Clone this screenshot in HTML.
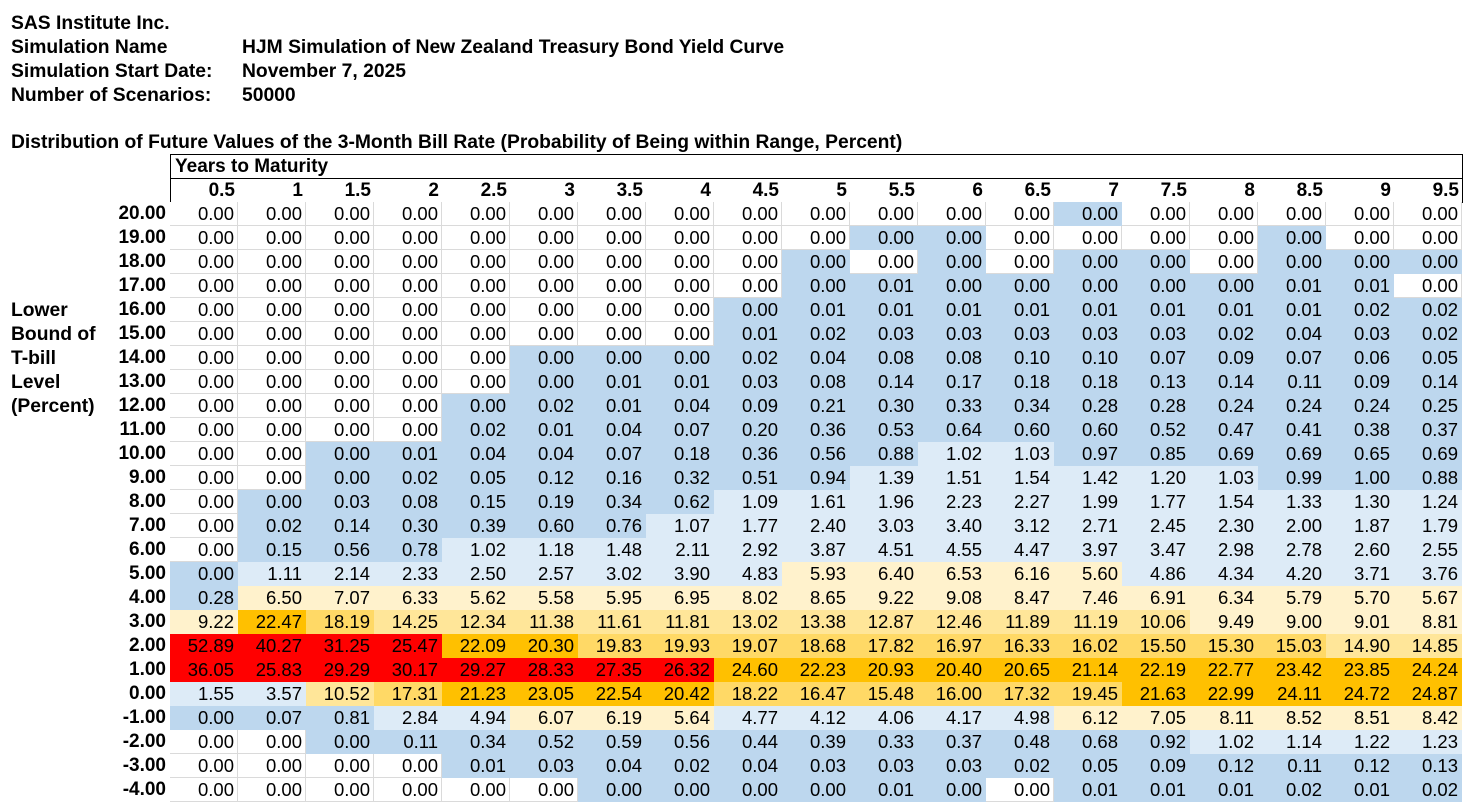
<!DOCTYPE html>
<html><head><meta charset="utf-8"><style>
body{margin:0;width:1477px;height:812px;background:#fff;position:relative;font-family:"Liberation Sans",Arial,sans-serif;color:#000;overflow:hidden}
.t{position:absolute;font-weight:bold;font-size:19.3px;line-height:24px;white-space:nowrap}
table{position:absolute;left:0;top:202px;border-collapse:collapse;table-layout:fixed;font-size:18.5px}
td{width:64px;height:24px;padding:0 4px 0 0;text-align:right;line-height:24px;white-space:nowrap;overflow:hidden}
td.k{width:166px;font-weight:bold;background:#fff;font-size:19px}
.w{background:#fff;box-shadow:inset -1px -1px 0 #dadada}
.b{background:#bdd7ee}.l{background:#ddebf7}.y{background:#fff2cc}.g{background:#ffe699}.h{background:#ffd966}.o{background:#ffc000}.r{background:#ff0000}
#hd{position:absolute;left:170px;top:154px;width:1291px;height:47px;border:1px solid #000}
#hd .ln{position:absolute;left:0;top:23px;width:100%;height:1px;background:#000}
#hd .c{position:absolute;top:24px;width:64px;text-align:right;font-weight:bold;font-size:19px;line-height:24px}
</style></head><body>
<div class="t" style="left:11px;top:12px">SAS Institute Inc.</div>
<div class="t" style="left:11px;top:36px">Simulation Name</div>
<div class="t" style="left:242px;top:36px">HJM Simulation of New Zealand Treasury Bond Yield Curve</div>
<div class="t" style="left:11px;top:60px">Simulation Start Date:</div>
<div class="t" style="left:242px;top:60px">November 7, 2025</div>
<div class="t" style="left:11px;top:84px">Number of Scenarios:</div>
<div class="t" style="left:242px;top:84px">50000</div>
<div class="t" style="left:11px;top:131px">Distribution of Future Values of the 3-Month Bill Rate (Probability of Being within Range, Percent)</div>
<div id="hd"><div class="t" style="left:4px;top:0;font-size:19px">Years to Maturity</div><div class="ln"></div>
<div class="c" style="left:0">0.5</div><div class="c" style="left:68px">1</div><div class="c" style="left:136px">1.5</div><div class="c" style="left:204px">2</div><div class="c" style="left:272px">2.5</div><div class="c" style="left:340px">3</div><div class="c" style="left:408px">3.5</div><div class="c" style="left:476px">4</div><div class="c" style="left:544px">4.5</div><div class="c" style="left:612px">5</div><div class="c" style="left:680px">5.5</div><div class="c" style="left:748px">6</div><div class="c" style="left:816px">6.5</div><div class="c" style="left:884px">7</div><div class="c" style="left:952px">7.5</div><div class="c" style="left:1020px">8</div><div class="c" style="left:1088px">8.5</div><div class="c" style="left:1156px">9</div><div class="c" style="left:1224px">9.5</div>
</div>
<table>
<tr><td class="k">20.00</td><td class="w">0.00</td><td class="w">0.00</td><td class="w">0.00</td><td class="w">0.00</td><td class="w">0.00</td><td class="w">0.00</td><td class="w">0.00</td><td class="w">0.00</td><td class="w">0.00</td><td class="w">0.00</td><td class="w">0.00</td><td class="w">0.00</td><td class="w">0.00</td><td class="b">0.00</td><td class="w">0.00</td><td class="w">0.00</td><td class="w">0.00</td><td class="w">0.00</td><td class="w">0.00</td></tr>
<tr><td class="k">19.00</td><td class="w">0.00</td><td class="w">0.00</td><td class="w">0.00</td><td class="w">0.00</td><td class="w">0.00</td><td class="w">0.00</td><td class="w">0.00</td><td class="w">0.00</td><td class="w">0.00</td><td class="w">0.00</td><td class="b">0.00</td><td class="b">0.00</td><td class="w">0.00</td><td class="w">0.00</td><td class="w">0.00</td><td class="w">0.00</td><td class="b">0.00</td><td class="w">0.00</td><td class="w">0.00</td></tr>
<tr><td class="k">18.00</td><td class="w">0.00</td><td class="w">0.00</td><td class="w">0.00</td><td class="w">0.00</td><td class="w">0.00</td><td class="w">0.00</td><td class="w">0.00</td><td class="w">0.00</td><td class="w">0.00</td><td class="b">0.00</td><td class="w">0.00</td><td class="b">0.00</td><td class="w">0.00</td><td class="b">0.00</td><td class="b">0.00</td><td class="w">0.00</td><td class="b">0.00</td><td class="b">0.00</td><td class="b">0.00</td></tr>
<tr><td class="k">17.00</td><td class="w">0.00</td><td class="w">0.00</td><td class="w">0.00</td><td class="w">0.00</td><td class="w">0.00</td><td class="w">0.00</td><td class="w">0.00</td><td class="w">0.00</td><td class="w">0.00</td><td class="b">0.00</td><td class="b">0.01</td><td class="b">0.00</td><td class="b">0.00</td><td class="b">0.00</td><td class="b">0.00</td><td class="b">0.00</td><td class="b">0.01</td><td class="b">0.01</td><td class="w">0.00</td></tr>
<tr><td class="k">16.00</td><td class="w">0.00</td><td class="w">0.00</td><td class="w">0.00</td><td class="w">0.00</td><td class="w">0.00</td><td class="w">0.00</td><td class="w">0.00</td><td class="w">0.00</td><td class="b">0.00</td><td class="b">0.01</td><td class="b">0.01</td><td class="b">0.01</td><td class="b">0.01</td><td class="b">0.01</td><td class="b">0.01</td><td class="b">0.01</td><td class="b">0.01</td><td class="b">0.02</td><td class="b">0.02</td></tr>
<tr><td class="k">15.00</td><td class="w">0.00</td><td class="w">0.00</td><td class="w">0.00</td><td class="w">0.00</td><td class="w">0.00</td><td class="w">0.00</td><td class="w">0.00</td><td class="w">0.00</td><td class="b">0.01</td><td class="b">0.02</td><td class="b">0.03</td><td class="b">0.03</td><td class="b">0.03</td><td class="b">0.03</td><td class="b">0.03</td><td class="b">0.02</td><td class="b">0.04</td><td class="b">0.03</td><td class="b">0.02</td></tr>
<tr><td class="k">14.00</td><td class="w">0.00</td><td class="w">0.00</td><td class="w">0.00</td><td class="w">0.00</td><td class="w">0.00</td><td class="b">0.00</td><td class="b">0.00</td><td class="b">0.00</td><td class="b">0.02</td><td class="b">0.04</td><td class="b">0.08</td><td class="b">0.08</td><td class="b">0.10</td><td class="b">0.10</td><td class="b">0.07</td><td class="b">0.09</td><td class="b">0.07</td><td class="b">0.06</td><td class="b">0.05</td></tr>
<tr><td class="k">13.00</td><td class="w">0.00</td><td class="w">0.00</td><td class="w">0.00</td><td class="w">0.00</td><td class="w">0.00</td><td class="b">0.00</td><td class="b">0.01</td><td class="b">0.01</td><td class="b">0.03</td><td class="b">0.08</td><td class="b">0.14</td><td class="b">0.17</td><td class="b">0.18</td><td class="b">0.18</td><td class="b">0.13</td><td class="b">0.14</td><td class="b">0.11</td><td class="b">0.09</td><td class="b">0.14</td></tr>
<tr><td class="k">12.00</td><td class="w">0.00</td><td class="w">0.00</td><td class="w">0.00</td><td class="w">0.00</td><td class="b">0.00</td><td class="b">0.02</td><td class="b">0.01</td><td class="b">0.04</td><td class="b">0.09</td><td class="b">0.21</td><td class="b">0.30</td><td class="b">0.33</td><td class="b">0.34</td><td class="b">0.28</td><td class="b">0.28</td><td class="b">0.24</td><td class="b">0.24</td><td class="b">0.24</td><td class="b">0.25</td></tr>
<tr><td class="k">11.00</td><td class="w">0.00</td><td class="w">0.00</td><td class="w">0.00</td><td class="w">0.00</td><td class="b">0.02</td><td class="b">0.01</td><td class="b">0.04</td><td class="b">0.07</td><td class="b">0.20</td><td class="b">0.36</td><td class="b">0.53</td><td class="b">0.64</td><td class="b">0.60</td><td class="b">0.60</td><td class="b">0.52</td><td class="b">0.47</td><td class="b">0.41</td><td class="b">0.38</td><td class="b">0.37</td></tr>
<tr><td class="k">10.00</td><td class="w">0.00</td><td class="w">0.00</td><td class="b">0.00</td><td class="b">0.01</td><td class="b">0.04</td><td class="b">0.04</td><td class="b">0.07</td><td class="b">0.18</td><td class="b">0.36</td><td class="b">0.56</td><td class="b">0.88</td><td class="l">1.02</td><td class="l">1.03</td><td class="b">0.97</td><td class="b">0.85</td><td class="b">0.69</td><td class="b">0.69</td><td class="b">0.65</td><td class="b">0.69</td></tr>
<tr><td class="k">9.00</td><td class="w">0.00</td><td class="w">0.00</td><td class="b">0.00</td><td class="b">0.02</td><td class="b">0.05</td><td class="b">0.12</td><td class="b">0.16</td><td class="b">0.32</td><td class="b">0.51</td><td class="b">0.94</td><td class="l">1.39</td><td class="l">1.51</td><td class="l">1.54</td><td class="l">1.42</td><td class="l">1.20</td><td class="l">1.03</td><td class="b">0.99</td><td class="b">1.00</td><td class="b">0.88</td></tr>
<tr><td class="k">8.00</td><td class="w">0.00</td><td class="b">0.00</td><td class="b">0.03</td><td class="b">0.08</td><td class="b">0.15</td><td class="b">0.19</td><td class="b">0.34</td><td class="b">0.62</td><td class="l">1.09</td><td class="l">1.61</td><td class="l">1.96</td><td class="l">2.23</td><td class="l">2.27</td><td class="l">1.99</td><td class="l">1.77</td><td class="l">1.54</td><td class="l">1.33</td><td class="l">1.30</td><td class="l">1.24</td></tr>
<tr><td class="k">7.00</td><td class="w">0.00</td><td class="b">0.02</td><td class="b">0.14</td><td class="b">0.30</td><td class="b">0.39</td><td class="b">0.60</td><td class="b">0.76</td><td class="l">1.07</td><td class="l">1.77</td><td class="l">2.40</td><td class="l">3.03</td><td class="l">3.40</td><td class="l">3.12</td><td class="l">2.71</td><td class="l">2.45</td><td class="l">2.30</td><td class="l">2.00</td><td class="l">1.87</td><td class="l">1.79</td></tr>
<tr><td class="k">6.00</td><td class="w">0.00</td><td class="b">0.15</td><td class="b">0.56</td><td class="b">0.78</td><td class="l">1.02</td><td class="l">1.18</td><td class="l">1.48</td><td class="l">2.11</td><td class="l">2.92</td><td class="l">3.87</td><td class="l">4.51</td><td class="l">4.55</td><td class="l">4.47</td><td class="l">3.97</td><td class="l">3.47</td><td class="l">2.98</td><td class="l">2.78</td><td class="l">2.60</td><td class="l">2.55</td></tr>
<tr><td class="k">5.00</td><td class="b">0.00</td><td class="l">1.11</td><td class="l">2.14</td><td class="l">2.33</td><td class="l">2.50</td><td class="l">2.57</td><td class="l">3.02</td><td class="l">3.90</td><td class="l">4.83</td><td class="y">5.93</td><td class="y">6.40</td><td class="y">6.53</td><td class="y">6.16</td><td class="y">5.60</td><td class="l">4.86</td><td class="l">4.34</td><td class="l">4.20</td><td class="l">3.71</td><td class="l">3.76</td></tr>
<tr><td class="k">4.00</td><td class="b">0.28</td><td class="y">6.50</td><td class="y">7.07</td><td class="y">6.33</td><td class="y">5.62</td><td class="y">5.58</td><td class="y">5.95</td><td class="y">6.95</td><td class="y">8.02</td><td class="y">8.65</td><td class="y">9.22</td><td class="y">9.08</td><td class="y">8.47</td><td class="y">7.46</td><td class="y">6.91</td><td class="y">6.34</td><td class="y">5.79</td><td class="y">5.70</td><td class="y">5.67</td></tr>
<tr><td class="k">3.00</td><td class="y">9.22</td><td class="o">22.47</td><td class="h">18.19</td><td class="g">14.25</td><td class="g">12.34</td><td class="g">11.38</td><td class="g">11.61</td><td class="g">11.81</td><td class="g">13.02</td><td class="g">13.38</td><td class="g">12.87</td><td class="g">12.46</td><td class="g">11.89</td><td class="g">11.19</td><td class="g">10.06</td><td class="y">9.49</td><td class="y">9.00</td><td class="y">9.01</td><td class="y">8.81</td></tr>
<tr><td class="k">2.00</td><td class="r">52.89</td><td class="r">40.27</td><td class="r">31.25</td><td class="r">25.47</td><td class="o">22.09</td><td class="o">20.30</td><td class="h">19.83</td><td class="h">19.93</td><td class="h">19.07</td><td class="h">18.68</td><td class="h">17.82</td><td class="h">16.97</td><td class="h">16.33</td><td class="h">16.02</td><td class="h">15.50</td><td class="h">15.30</td><td class="h">15.03</td><td class="g">14.90</td><td class="g">14.85</td></tr>
<tr><td class="k">1.00</td><td class="r">36.05</td><td class="r">25.83</td><td class="r">29.29</td><td class="r">30.17</td><td class="r">29.27</td><td class="r">28.33</td><td class="r">27.35</td><td class="r">26.32</td><td class="o">24.60</td><td class="o">22.23</td><td class="o">20.93</td><td class="o">20.40</td><td class="o">20.65</td><td class="o">21.14</td><td class="o">22.19</td><td class="o">22.77</td><td class="o">23.42</td><td class="o">23.85</td><td class="o">24.24</td></tr>
<tr><td class="k">0.00</td><td class="l">1.55</td><td class="l">3.57</td><td class="g">10.52</td><td class="h">17.31</td><td class="o">21.23</td><td class="o">23.05</td><td class="o">22.54</td><td class="o">20.42</td><td class="h">18.22</td><td class="h">16.47</td><td class="h">15.48</td><td class="h">16.00</td><td class="h">17.32</td><td class="h">19.45</td><td class="o">21.63</td><td class="o">22.99</td><td class="o">24.11</td><td class="o">24.72</td><td class="o">24.87</td></tr>
<tr><td class="k">-1.00</td><td class="b">0.00</td><td class="b">0.07</td><td class="b">0.81</td><td class="l">2.84</td><td class="l">4.94</td><td class="y">6.07</td><td class="y">6.19</td><td class="y">5.64</td><td class="l">4.77</td><td class="l">4.12</td><td class="l">4.06</td><td class="l">4.17</td><td class="l">4.98</td><td class="y">6.12</td><td class="y">7.05</td><td class="y">8.11</td><td class="y">8.52</td><td class="y">8.51</td><td class="y">8.42</td></tr>
<tr><td class="k">-2.00</td><td class="w">0.00</td><td class="w">0.00</td><td class="b">0.00</td><td class="b">0.11</td><td class="b">0.34</td><td class="b">0.52</td><td class="b">0.59</td><td class="b">0.56</td><td class="b">0.44</td><td class="b">0.39</td><td class="b">0.33</td><td class="b">0.37</td><td class="b">0.48</td><td class="b">0.68</td><td class="b">0.92</td><td class="l">1.02</td><td class="l">1.14</td><td class="l">1.22</td><td class="l">1.23</td></tr>
<tr><td class="k">-3.00</td><td class="w">0.00</td><td class="w">0.00</td><td class="w">0.00</td><td class="w">0.00</td><td class="b">0.01</td><td class="b">0.03</td><td class="b">0.04</td><td class="b">0.02</td><td class="b">0.04</td><td class="b">0.03</td><td class="b">0.03</td><td class="b">0.03</td><td class="b">0.02</td><td class="b">0.05</td><td class="b">0.09</td><td class="b">0.12</td><td class="b">0.11</td><td class="b">0.12</td><td class="b">0.13</td></tr>
<tr><td class="k">-4.00</td><td class="w">0.00</td><td class="w">0.00</td><td class="w">0.00</td><td class="w">0.00</td><td class="w">0.00</td><td class="w">0.00</td><td class="b">0.00</td><td class="b">0.00</td><td class="b">0.00</td><td class="b">0.00</td><td class="b">0.01</td><td class="b">0.00</td><td class="w">0.00</td><td class="b">0.01</td><td class="b">0.01</td><td class="b">0.01</td><td class="b">0.02</td><td class="b">0.01</td><td class="b">0.02</td></tr>
</table>
<div class="t" style="left:11px;top:299px">Lower</div>
<div class="t" style="left:11px;top:323px">Bound of</div>
<div class="t" style="left:11px;top:347px">T-bill</div>
<div class="t" style="left:11px;top:371px">Level</div>
<div class="t" style="left:11px;top:395px">(Percent)</div>
</body></html>
